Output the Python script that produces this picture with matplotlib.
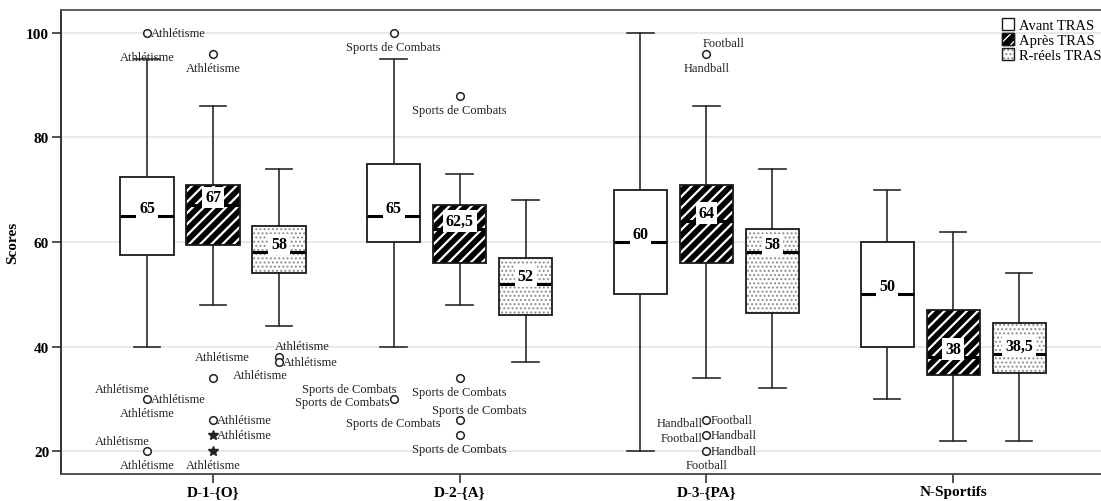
import matplotlib
matplotlib.use('Agg')
import matplotlib.pyplot as plt
from matplotlib.patches import Patch, PathPatch

plt.rcParams['font.family'] = ['Liberation Serif', 'DejaVu Serif']

groups = ['D-1-{O}', 'D-2-{A}', 'D-3-{PA}', 'N-Sportifs']
series = ['Avant TRAS', 'Après TRAS', 'R-réels TRAS']

# five-number summaries per series, one value per group
whislo = [[40, 40, 20, 30], [48, 48, 34, 22], [44, 37, 32, 22]]
q1 = [[57.5, 60, 50, 40], [59.5, 56, 56, 34.5], [54, 46, 46.5, 35]]
med = [[65, 65, 60, 50], [67, 62.5, 64, 38], [58, 52, 58, 38.5]]
q3 = [[72.5, 75, 70, 60], [71, 67, 71, 47], [63, 57, 62.5, 44.5]]
whishi = [[95, 95, 100, 70], [86, 73, 86, 62], [74, 68, 74, 54]]

# outliers: (group, series, value, marker)
outliers = [
    (0, 0, 100, 'o'), (0, 0, 30, 'o'), (0, 0, 20, 'o'),
    (0, 1, 96, 'o'), (0, 1, 34, 'o'), (0, 1, 26, 'o'), (0, 1, 23, '*'), (0, 1, 20, '*'),
    (0, 2, 38, 'o'), (0, 2, 37, 'o'),
    (1, 0, 100, 'o'), (1, 0, 30, 'o'),
    (1, 1, 88, 'o'), (1, 1, 34, 'o'), (1, 1, 26, 'o'), (1, 1, 23, 'o'),
    (2, 1, 96, 'o'), (2, 1, 26, 'o'), (2, 1, 23, 'o'), (2, 1, 20, 'o'),
]

# outlier labels: (group, series, value, text, placement)
labels = [
    (0, 0, 100, 'Athlétisme', 'r'), (0, 0, 100, 'Athlétisme', 'bb'),
    (0, 0, 30, 'Athlétisme', 'al'), (0, 0, 30, 'Athlétisme', 'r'), (0, 0, 30, 'Athlétisme', 'b'),
    (0, 0, 20, 'Athlétisme', 'al'), (0, 0, 20, 'Athlétisme', 'b'),
    (0, 1, 96, 'Athlétisme', 'b'),
    (0, 1, 34, 'Athlétisme', 'aa'), (0, 1, 34, 'Athlétisme', 'rr'),
    (0, 1, 26, 'Athlétisme', 'r'), (0, 1, 23, 'Athlétisme', 'r'), (0, 1, 20, 'Athlétisme', 'b'),
    (0, 2, 38, 'Athlétisme', 'ar'), (0, 2, 37, 'Athlétisme', 'r'),
    (1, 0, 100, 'Sports de Combats', 'b'),
    (1, 0, 30, 'Sports de Combats', 'al'), (1, 0, 30, 'Sports de Combats', 'l'),
    (1, 0, 30, 'Sports de Combats', 'bb'),
    (1, 1, 88, 'Sports de Combats', 'b'), (1, 1, 34, 'Sports de Combats', 'b'),
    (1, 1, 26, 'Sports de Combats', 'a'), (1, 1, 23, 'Sports de Combats', 'b'),
    (2, 1, 96, 'Football', 'ar'), (2, 1, 96, 'Handball', 'b'),
    (2, 1, 26, 'Handball', 'l'), (2, 1, 26, 'Football', 'r'),
    (2, 1, 23, 'Football', 'l'), (2, 1, 23, 'Handball', 'r'),
    (2, 1, 20, 'Handball', 'r'), (2, 1, 20, 'Football', 'b'),
]

# placement offsets in pixels (dx, dy, ha)
place = {
    'r': (4, 0, 'left'), 'l': (-4, -3, 'right'),
    'b': (0, -14, 'center'), 'bb': (0, -24, 'center'),
    'al': (3, 10, 'right'), 'ar': (-4, 11, 'left'),
    'aa': (9, 21, 'center'), 'rr': (20, 3, 'left'),
    'a': (20, 10, 'center'),
}

offsets = [-0.2675, 0.0, 0.2675]
box_w = 0.215
PX = 0.72  # points per pixel at 100 dpi

fig = plt.figure(figsize=(11.01, 5.02), dpi=100)
ax = fig.add_axes([61 / 1101, 27 / 502, 1 - 61 / 1101, 464 / 502])

edge = '#1a1a1a'
for s in range(3):
    stats = []
    for g in range(4):
        stats.append(dict(whislo=whislo[s][g], q1=q1[s][g], med=med[s][g],
                          q3=q3[s][g], whishi=whishi[s][g], fliers=[]))
    pos = [g + offsets[s] for g in range(4)]
    if s == 0:
        bp = {'facecolor': 'white', 'edgecolor': edge, 'linewidth': 1.3}
    elif s == 1:
        bp = {'facecolor': 'black', 'edgecolor': 'white', 'linewidth': 0, 'hatch': '///'}
    else:
        bp = {'facecolor': 'white', 'edgecolor': '#8a8a8a', 'linewidth': 0, 'hatch': '....'}
    hl = 1.6 if s == 1 else 0.9
    with plt.rc_context({'hatch.linewidth': hl}):
        res = ax.bxp(stats, positions=pos, widths=box_w, patch_artist=True,
                     manage_ticks=False, capwidths=box_w * 0.5, boxprops=bp,
                     whiskerprops=dict(color='#2a2a2a', linewidth=1.2),
                     capprops=dict(color='#2a2a2a', linewidth=1.2),
                     medianprops=dict(color='black', linewidth=2.2),
                     zorder=3)
    for b in res['boxes']:
        if hasattr(b, 'set_hatch_linewidth'):
            b.set_hatch_linewidth(hl)
        if s > 0:
            ax.add_patch(PathPatch(b.get_path(), facecolor='none', edgecolor=edge,
                                   linewidth=1.3, zorder=3.5))
    for g in range(4):
        v = med[s][g]
        txt = f'{v:g}'.replace('.', ',')
        ax.annotate(txt, (pos[g], v), xytext=(0, 8 * PX), textcoords='offset points',
                    ha='center', va='center', fontsize=11.5, fontweight='bold',
                    zorder=6, bbox=dict(boxstyle='square,pad=0.18', fc='white', ec='none'))

for g, s, v, m in outliers:
    if m == 'o':
        ax.plot(g + offsets[s], v, marker='o', ms=5.5, mfc='white', mec='#222222',
                mew=1.1, ls='none', zorder=5)
    else:
        ax.plot(g + offsets[s], v, marker='*', ms=7, mfc='#222222', mec='#222222',
                ls='none', zorder=5)

for g, s, v, t, p in labels:
    dx, dy, ha = place[p]
    ax.annotate(t, (g + offsets[s], v), xytext=(dx * PX, dy * PX),
                textcoords='offset points', ha=ha, va='center', fontsize=9,
                color='#222222', zorder=5)

ax.set_xlim((61 - 213) / 246.7, (1101 - 213) / 246.7)
ax.set_ylim(15.6, 104.4)
ax.set_xticks(range(4))
ax.set_xticklabels(groups, fontsize=11, fontweight='bold')
ax.set_yticks([20, 40, 60, 80, 100])
ax.set_yticklabels(['20', '40', '60', '80', '100'], fontsize=11, fontweight='bold')
ax.tick_params(axis='both', direction='out', length=6.5, width=1.1, color='#222222')
ax.tick_params(axis='y', pad=2)
ax.tick_params(axis='x', pad=1.5)
ax.set_ylabel('Scores', fontsize=11, fontweight='bold', labelpad=5)
ax.grid(axis='y', color='#e3e3e3', linewidth=1.1)
ax.set_axisbelow(True)
ax.spines['right'].set_visible(False)
ax.spines['left'].set_color('#222222')
ax.spines['bottom'].set_color('#444444')
ax.spines['top'].set_color('#555555')
for sp in ['left', 'bottom', 'top']:
    ax.spines[sp].set_linewidth(1.3)

with plt.rc_context({'hatch.linewidth': 1.6}):
    h2 = (Patch(facecolor='black', edgecolor='black'),
          Patch(facecolor='none', edgecolor='white', hatch='///', linewidth=0),
          Patch(facecolor='none', edgecolor=edge, linewidth=1))
with plt.rc_context({'hatch.linewidth': 0.9}):
    h3 = (Patch(facecolor='white', edgecolor='white'),
          Patch(facecolor='none', edgecolor='#8a8a8a', hatch='....', linewidth=0),
          Patch(facecolor='none', edgecolor=edge, linewidth=1))
h1 = Patch(facecolor='white', edgecolor=edge, linewidth=1)
ax.legend([h1, h2, h3], series, loc='upper right', bbox_to_anchor=(1.006, 0.995),
          frameon=False, fontsize=10.5, handlelength=0.85, handleheight=0.85,
          handletextpad=0.3, labelspacing=0.08, borderaxespad=0.2, borderpad=0.2)

fig.savefig('out.png', dpi=100)
